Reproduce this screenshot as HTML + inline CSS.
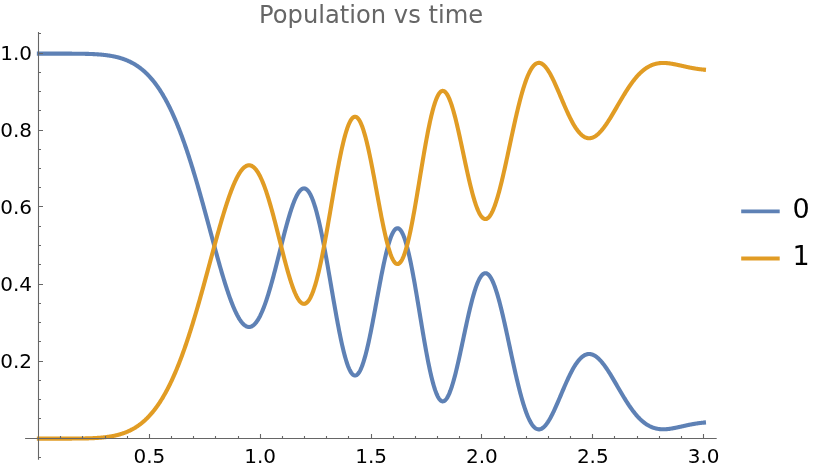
<!DOCTYPE html>
<html><head><meta charset="utf-8"><title>Population vs time</title><style>
html,body{margin:0;padding:0;background:#fff;width:820px;height:470px;overflow:hidden}
svg{display:block;will-change:transform}
text{font-family:"DejaVu Sans","Liberation Sans",sans-serif}
</style></head><body>
<svg width="820" height="470" viewBox="0 0 820 470">
<text x="259.1" y="23" font-size="24.2" fill="#666666">Population vs time</text>
<g fill="none" stroke-width="4.1" stroke-linecap="square" stroke-linejoin="round">
<path d="M38.90,53.65 39.34,53.65 39.79,53.65 40.23,53.65 40.67,53.65 41.12,53.65 41.56,53.65 42.00,53.65 42.45,53.65 42.89,53.65 43.33,53.65 43.78,53.65 44.22,53.65 44.66,53.65 45.11,53.65 45.55,53.65 45.99,53.65 46.44,53.65 46.88,53.65 47.32,53.65 47.77,53.65 48.21,53.65 48.65,53.65 49.10,53.65 49.54,53.65 49.98,53.65 50.43,53.65 50.87,53.65 51.31,53.65 51.76,53.65 52.20,53.65 52.64,53.65 53.09,53.65 53.53,53.65 53.97,53.65 54.42,53.65 54.86,53.65 55.30,53.65 55.75,53.65 56.19,53.65 56.63,53.65 57.08,53.65 57.52,53.65 57.96,53.65 58.41,53.65 58.85,53.65 59.29,53.65 59.74,53.65 60.18,53.65 60.62,53.65 61.07,53.65 61.51,53.65 61.95,53.65 62.40,53.65 62.84,53.65 63.28,53.65 63.73,53.65 64.17,53.66 64.61,53.66 65.06,53.66 65.50,53.66 65.94,53.66 66.39,53.66 66.83,53.66 67.28,53.66 67.72,53.66 68.16,53.66 68.61,53.66 69.05,53.66 69.49,53.67 69.94,53.67 70.38,53.67 70.82,53.67 71.27,53.67 71.71,53.67 72.15,53.68 72.60,53.68 73.04,53.68 73.48,53.68 73.93,53.69 74.37,53.69 74.81,53.69 75.26,53.69 75.70,53.70 76.14,53.70 76.59,53.70 77.03,53.71 77.47,53.71 77.92,53.72 78.36,53.72 78.80,53.73 79.25,53.73 79.69,53.74 80.13,53.74 80.58,53.75 81.02,53.75 81.46,53.76 81.91,53.77 82.35,53.77 82.79,53.78 83.24,53.79 83.68,53.80 84.12,53.81 84.57,53.81 85.01,53.82 85.45,53.83 85.90,53.84 86.34,53.86 86.78,53.87 87.23,53.88 87.67,53.89 88.11,53.90 88.56,53.92 89.00,53.93 89.44,53.95 89.89,53.96 90.33,53.98 90.77,53.99 91.22,54.01 91.66,54.03 92.10,54.05 92.55,54.07 92.99,54.09 93.43,54.11 93.88,54.13 94.32,54.15 94.76,54.18 95.21,54.20 95.65,54.23 96.09,54.25 96.54,54.28 96.98,54.31 97.42,54.34 97.87,54.37 98.31,54.40 98.75,54.43 99.20,54.47 99.64,54.50 100.08,54.54 100.53,54.57 100.97,54.61 101.41,54.65 101.86,54.69 102.30,54.73 102.74,54.78 103.19,54.82 103.63,54.87 104.07,54.92 104.52,54.97 104.96,55.02 105.40,55.07 105.85,55.12 106.29,55.18 106.73,55.24 107.18,55.30 107.62,55.36 108.06,55.42 108.51,55.49 108.95,55.55 109.39,55.62 109.84,55.69 110.28,55.76 110.72,55.84 111.17,55.92 111.61,55.99 112.05,56.08 112.50,56.16 112.94,56.24 113.38,56.33 113.83,56.42 114.27,56.52 114.71,56.61 115.16,56.71 115.60,56.81 116.04,56.91 116.49,57.02 116.93,57.12 117.37,57.24 117.82,57.35 118.26,57.47 118.70,57.59 119.15,57.71 119.59,57.83 120.03,57.96 120.48,58.09 120.92,58.23 121.36,58.37 121.81,58.51 122.25,58.65 122.70,58.80 123.14,58.95 123.58,59.11 124.03,59.26 124.47,59.43 124.91,59.59 125.36,59.76 125.80,59.94 126.24,60.11 126.69,60.29 127.13,60.48 127.57,60.67 128.02,60.86 128.46,61.06 128.90,61.26 129.35,61.47 129.79,61.68 130.23,61.89 130.68,62.11 131.12,62.34 131.56,62.57 132.01,62.80 132.45,63.04 132.89,63.28 133.34,63.53 133.78,63.78 134.22,64.04 134.67,64.30 135.11,64.57 135.55,64.85 136.00,65.12 136.44,65.41 136.88,65.70 137.33,65.99 137.77,66.29 138.21,66.60 138.66,66.91 139.10,67.23 139.54,67.56 139.99,67.89 140.43,68.22 140.87,68.57 141.32,68.91 141.76,69.27 142.20,69.63 142.65,70.00 143.09,70.37 143.53,70.75 143.98,71.14 144.42,71.53 144.86,71.93 145.31,72.34 145.75,72.76 146.19,73.18 146.64,73.61 147.08,74.04 147.52,74.49 147.97,74.94 148.41,75.40 148.85,75.86 149.30,76.34 149.74,76.82 150.18,77.30 150.63,77.80 151.07,78.31 151.51,78.82 151.96,79.34 152.40,79.87 152.84,80.40 153.29,80.95 153.73,81.50 154.17,82.06 154.62,82.63 155.06,83.21 155.50,83.80 155.95,84.39 156.39,85.00 156.83,85.61 157.28,86.23 157.72,86.86 158.16,87.50 158.61,88.15 159.05,88.81 159.49,89.48 159.94,90.16 160.38,90.84 160.82,91.54 161.27,92.25 161.71,92.96 162.15,93.68 162.60,94.42 163.04,95.16 163.48,95.92 163.93,96.68 164.37,97.45 164.81,98.24 165.26,99.03 165.70,99.84 166.14,100.65 166.59,101.47 167.03,102.31 167.47,103.15 167.92,104.01 168.36,104.87 168.80,105.75 169.25,106.64 169.69,107.53 170.13,108.44 170.58,109.36 171.02,110.29 171.46,111.23 171.91,112.18 172.35,113.14 172.79,114.11 173.24,115.09 173.68,116.08 174.12,117.09 174.57,118.10 175.01,119.13 175.45,120.16 175.90,121.21 176.34,122.27 176.78,123.34 177.23,124.42 177.67,125.51 178.12,126.61 178.56,127.72 179.00,128.85 179.45,129.98 179.89,131.13 180.33,132.28 180.78,133.45 181.22,134.63 181.66,135.82 182.11,137.02 182.55,138.23 182.99,139.45 183.44,140.68 183.88,141.92 184.32,143.17 184.77,144.44 185.21,145.71 185.65,147.00 186.10,148.29 186.54,149.59 186.98,150.91 187.43,152.24 187.87,153.57 188.31,154.92 188.76,156.27 189.20,157.64 189.64,159.01 190.09,160.40 190.53,161.79 190.97,163.19 191.42,164.61 191.86,166.03 192.30,167.46 192.75,168.90 193.19,170.35 193.63,171.81 194.08,173.28 194.52,174.75 194.96,176.23 195.41,177.73 195.85,179.22 196.29,180.73 196.74,182.25 197.18,183.77 197.62,185.30 198.07,186.84 198.51,188.38 198.95,189.93 199.40,191.49 199.84,193.05 200.28,194.62 200.73,196.20 201.17,197.78 201.61,199.37 202.06,200.96 202.50,202.56 202.94,204.16 203.39,205.77 203.83,207.38 204.27,208.99 204.72,210.61 205.16,212.24 205.60,213.86 206.05,215.49 206.49,217.12 206.93,218.76 207.38,220.39 207.82,222.03 208.26,223.67 208.71,225.31 209.15,226.95 209.59,228.59 210.04,230.24 210.48,231.88 210.92,233.52 211.37,235.16 211.81,236.80 212.25,238.44 212.70,240.07 213.14,241.71 213.58,243.34 214.03,244.97 214.47,246.59 214.91,248.22 215.36,249.83 215.80,251.44 216.24,253.05 216.69,254.65 217.13,256.25 217.57,257.84 218.02,259.43 218.46,261.00 218.90,262.57 219.35,264.13 219.79,265.69 220.23,267.23 220.68,268.77 221.12,270.29 221.56,271.81 222.01,273.31 222.45,274.81 222.89,276.29 223.34,277.76 223.78,279.22 224.22,280.67 224.67,282.10 225.11,283.52 225.55,284.92 226.00,286.31 226.44,287.68 226.88,289.04 227.33,290.39 227.77,291.71 228.21,293.02 228.66,294.31 229.10,295.59 229.54,296.84 229.99,298.08 230.43,299.29 230.87,300.49 231.32,301.67 231.76,302.82 232.20,303.96 232.65,305.07 233.09,306.16 233.54,307.23 233.98,308.27 234.42,309.29 234.87,310.28 235.31,311.26 235.75,312.20 236.20,313.12 236.64,314.02 237.08,314.89 237.53,315.73 237.97,316.54 238.41,317.33 238.86,318.09 239.30,318.82 239.74,319.52 240.19,320.19 240.63,320.83 241.07,321.45 241.52,322.03 241.96,322.58 242.40,323.10 242.85,323.59 243.29,324.05 243.73,324.47 244.18,324.86 244.62,325.22 245.06,325.55 245.51,325.84 245.95,326.10 246.39,326.33 246.84,326.52 247.28,326.68 247.72,326.80 248.17,326.89 248.61,326.94 249.05,326.96 249.50,326.94 249.94,326.89 250.38,326.80 250.83,326.68 251.27,326.52 251.71,326.33 252.16,326.09 252.60,325.83 253.04,325.52 253.49,325.19 253.93,324.81 254.37,324.40 254.82,323.95 255.26,323.47 255.70,322.95 256.15,322.40 256.59,321.81 257.03,321.18 257.48,320.52 257.92,319.82 258.36,319.09 258.81,318.33 259.25,317.53 259.69,316.69 260.14,315.82 260.58,314.92 261.02,313.98 261.47,313.01 261.91,312.01 262.35,310.98 262.80,309.91 263.24,308.82 263.68,307.69 264.13,306.53 264.57,305.34 265.01,304.12 265.46,302.87 265.90,301.60 266.34,300.29 266.79,298.96 267.23,297.60 267.67,296.22 268.12,294.81 268.56,293.38 269.00,291.92 269.45,290.44 269.89,288.93 270.33,287.41 270.78,285.86 271.22,284.30 271.66,282.71 272.11,281.11 272.55,279.49 272.99,277.85 273.44,276.19 273.88,274.53 274.32,272.85 274.77,271.15 275.21,269.44 275.65,267.73 276.10,266.00 276.54,264.26 276.98,262.52 277.43,260.77 277.87,259.02 278.31,257.26 278.76,255.49 279.20,253.73 279.64,251.96 280.09,250.20 280.53,248.43 280.97,246.67 281.42,244.91 281.86,243.16 282.30,241.41 282.75,239.68 283.19,237.94 283.63,236.22 284.08,234.51 284.52,232.82 284.96,231.13 285.41,229.46 285.85,227.81 286.29,226.17 286.74,224.56 287.18,222.96 287.62,221.38 288.07,219.83 288.51,218.30 288.96,216.79 289.40,215.31 289.84,213.86 290.29,212.44 290.73,211.04 291.17,209.68 291.62,208.35 292.06,207.05 292.50,205.78 292.95,204.56 293.39,203.36 293.83,202.21 294.28,201.10 294.72,200.02 295.16,198.99 295.61,198.00 296.05,197.05 296.49,196.15 296.94,195.29 297.38,194.48 297.82,193.71 298.27,193.00 298.71,192.33 299.15,191.71 299.60,191.14 300.04,190.63 300.48,190.16 300.93,189.75 301.37,189.39 301.81,189.09 302.26,188.84 302.70,188.65 303.14,188.51 303.59,188.43 304.03,188.41 304.47,188.45 304.92,188.54 305.36,188.69 305.80,188.90 306.25,189.17 306.69,189.49 307.13,189.88 307.58,190.33 308.02,190.83 308.46,191.40 308.91,192.03 309.35,192.71 309.79,193.46 310.24,194.26 310.68,195.12 311.12,196.05 311.57,197.03 312.01,198.07 312.45,199.16 312.90,200.32 313.34,201.53 313.78,202.80 314.23,204.13 314.67,205.51 315.11,206.94 315.56,208.43 316.00,209.97 316.44,211.57 316.89,213.22 317.33,214.91 317.77,216.66 318.22,218.46 318.66,220.30 319.10,222.19 319.55,224.13 319.99,226.11 320.43,228.13 320.88,230.20 321.32,232.30 321.76,234.45 322.21,236.63 322.65,238.85 323.09,241.10 323.54,243.39 323.98,245.71 324.42,248.06 324.87,250.43 325.31,252.84 325.75,255.27 326.20,257.72 326.64,260.19 327.08,262.68 327.53,265.19 327.97,267.72 328.41,270.26 328.86,272.81 329.30,275.38 329.74,277.95 330.19,280.52 330.63,283.11 331.07,285.69 331.52,288.28 331.96,290.86 332.40,293.44 332.85,296.01 333.29,298.58 333.73,301.13 334.18,303.67 334.62,306.20 335.06,308.72 335.51,311.21 335.95,313.69 336.39,316.14 336.84,318.57 337.28,320.97 337.72,323.34 338.17,325.68 338.61,327.99 339.05,330.27 339.50,332.51 339.94,334.71 340.38,336.87 340.83,338.99 341.27,341.06 341.71,343.09 342.16,345.08 342.60,347.01 343.04,348.89 343.49,350.72 343.93,352.49 344.38,354.21 344.82,355.88 345.26,357.48 345.71,359.02 346.15,360.50 346.59,361.92 347.04,363.27 347.48,364.56 347.92,365.78 348.37,366.94 348.81,368.02 349.25,369.04 349.70,369.98 350.14,370.85 350.58,371.65 351.03,372.38 351.47,373.03 351.91,373.61 352.36,374.11 352.80,374.53 353.24,374.88 353.69,375.16 354.13,375.35 354.57,375.47 355.02,375.52 355.46,375.48 355.90,375.37 356.35,375.19 356.79,374.92 357.23,374.58 357.68,374.16 358.12,373.67 358.56,373.10 359.01,372.46 359.45,371.74 359.89,370.95 360.34,370.09 360.78,369.15 361.22,368.15 361.67,367.07 362.11,365.93 362.55,364.72 363.00,363.44 363.44,362.10 363.88,360.69 364.33,359.22 364.77,357.69 365.21,356.10 365.66,354.45 366.10,352.75 366.54,351.00 366.99,349.19 367.43,347.33 367.87,345.42 368.32,343.46 368.76,341.46 369.20,339.42 369.65,337.34 370.09,335.21 370.53,333.06 370.98,330.87 371.42,328.64 371.86,326.39 372.31,324.11 372.75,321.81 373.19,319.48 373.64,317.14 374.08,314.78 374.52,312.40 374.97,310.01 375.41,307.61 375.85,305.20 376.30,302.79 376.74,300.38 377.18,297.97 377.63,295.56 378.07,293.16 378.51,290.77 378.96,288.38 379.40,286.02 379.84,283.66 380.29,281.33 380.73,279.02 381.17,276.73 381.62,274.46 382.06,272.23 382.50,270.03 382.95,267.86 383.39,265.72 383.83,263.63 384.28,261.58 384.72,259.57 385.16,257.60 385.61,255.68 386.05,253.81 386.49,252.00 386.94,250.23 387.38,248.53 387.82,246.88 388.27,245.29 388.71,243.76 389.15,242.29 389.60,240.89 390.04,239.56 390.48,238.29 390.93,237.09 391.37,235.96 391.81,234.91 392.26,233.93 392.70,233.02 393.14,232.19 393.59,231.44 394.03,230.76 394.47,230.17 394.92,229.65 395.36,229.21 395.80,228.85 396.25,228.58 396.69,228.38 397.13,228.27 397.58,228.24 398.02,228.29 398.46,228.43 398.91,228.65 399.35,228.95 399.80,229.33 400.24,229.80 400.68,230.34 401.13,230.97 401.57,231.68 402.01,232.47 402.46,233.34 402.90,234.28 403.34,235.31 403.79,236.41 404.23,237.59 404.67,238.84 405.12,240.17 405.56,241.57 406.00,243.04 406.45,244.58 406.89,246.18 407.33,247.86 407.78,249.60 408.22,251.40 408.66,253.27 409.11,255.19 409.55,257.17 409.99,259.21 410.44,261.30 410.88,263.45 411.32,265.64 411.77,267.88 412.21,270.17 412.65,272.50 413.10,274.87 413.54,277.28 413.98,279.72 414.43,282.20 414.87,284.71 415.31,287.25 415.76,289.82 416.20,292.40 416.64,295.01 417.09,297.64 417.53,300.29 417.97,302.94 418.42,305.61 418.86,308.29 419.30,310.97 419.75,313.65 420.19,316.34 420.63,319.02 421.08,321.70 421.52,324.37 421.96,327.03 422.41,329.67 422.85,332.31 423.29,334.92 423.74,337.51 424.18,340.08 424.62,342.63 425.07,345.14 425.51,347.63 425.95,350.08 426.40,352.50 426.84,354.88 427.28,357.22 427.73,359.53 428.17,361.78 428.61,363.99 429.06,366.16 429.50,368.27 429.94,370.33 430.39,372.34 430.83,374.29 431.27,376.18 431.72,378.02 432.16,379.79 432.60,381.51 433.05,383.16 433.49,384.74 433.93,386.26 434.38,387.71 434.82,389.10 435.26,390.41 435.71,391.65 436.15,392.82 436.59,393.92 437.04,394.94 437.48,395.89 437.92,396.77 438.37,397.57 438.81,398.29 439.25,398.94 439.70,399.51 440.14,400.01 440.58,400.42 441.03,400.76 441.47,401.03 441.91,401.22 442.36,401.33 442.80,401.36 443.24,401.32 443.69,401.20 444.13,401.01 444.57,400.74 445.02,400.40 445.46,399.99 445.90,399.50 446.35,398.94 446.79,398.31 447.23,397.61 447.68,396.85 448.12,396.01 448.56,395.11 449.01,394.15 449.45,393.12 449.89,392.02 450.34,390.87 450.78,389.66 451.22,388.39 451.67,387.07 452.11,385.69 452.55,384.26 453.00,382.77 453.44,381.24 453.88,379.66 454.33,378.04 454.77,376.37 455.22,374.66 455.66,372.91 456.10,371.12 456.55,369.30 456.99,367.45 457.43,365.56 457.88,363.65 458.32,361.70 458.76,359.74 459.21,357.75 459.65,355.74 460.09,353.71 460.54,351.67 460.98,349.61 461.42,347.55 461.87,345.47 462.31,343.39 462.75,341.30 463.20,339.21 463.64,337.12 464.08,335.03 464.53,332.95 464.97,330.87 465.41,328.80 465.86,326.74 466.30,324.70 466.74,322.67 467.19,320.66 467.63,318.66 468.07,316.69 468.52,314.74 468.96,312.82 469.40,310.92 469.85,309.05 470.29,307.22 470.73,305.41 471.18,303.64 471.62,301.91 472.06,300.21 472.51,298.56 472.95,296.94 473.39,295.37 473.84,293.84 474.28,292.36 474.72,290.92 475.17,289.53 475.61,288.20 476.05,286.91 476.50,285.67 476.94,284.49 477.38,283.36 477.83,282.29 478.27,281.27 478.71,280.31 479.16,279.41 479.60,278.57 480.04,277.78 480.49,277.06 480.93,276.40 481.37,275.79 481.82,275.25 482.26,274.77 482.70,274.36 483.15,274.00 483.59,273.71 484.03,273.48 484.48,273.32 484.92,273.22 485.36,273.18 485.81,273.20 486.25,273.29 486.69,273.44 487.14,273.65 487.58,273.92 488.02,274.26 488.47,274.65 488.91,275.11 489.35,275.63 489.80,276.21 490.24,276.85 490.68,277.54 491.13,278.30 491.57,279.11 492.01,279.97 492.46,280.90 492.90,281.87 493.34,282.90 493.79,283.99 494.23,285.12 494.67,286.31 495.12,287.54 495.56,288.82 496.00,290.15 496.45,291.52 496.89,292.94 497.33,294.41 497.78,295.91 498.22,297.46 498.66,299.04 499.11,300.66 499.55,302.32 499.99,304.01 500.44,305.74 500.88,307.50 501.32,309.29 501.77,311.11 502.21,312.95 502.65,314.83 503.10,316.72 503.54,318.64 503.98,320.58 504.43,322.54 504.87,324.52 505.31,326.52 505.76,328.53 506.20,330.55 506.64,332.59 507.09,334.63 507.53,336.69 507.97,338.75 508.42,340.82 508.86,342.89 509.30,344.97 509.75,347.04 510.19,349.12 510.64,351.19 511.08,353.26 511.52,355.32 511.97,357.38 512.41,359.43 512.85,361.47 513.30,363.50 513.74,365.51 514.18,367.52 514.63,369.51 515.07,371.48 515.51,373.43 515.96,375.37 516.40,377.28 516.84,379.18 517.29,381.05 517.73,382.90 518.17,384.72 518.62,386.52 519.06,388.29 519.50,390.04 519.95,391.75 520.39,393.43 520.83,395.09 521.28,396.71 521.72,398.30 522.16,399.85 522.61,401.37 523.05,402.86 523.49,404.31 523.94,405.72 524.38,407.10 524.82,408.44 525.27,409.74 525.71,411.00 526.15,412.22 526.60,413.40 527.04,414.54 527.48,415.64 527.93,416.70 528.37,417.72 528.81,418.69 529.26,419.62 529.70,420.51 530.14,421.36 530.59,422.17 531.03,422.93 531.47,423.65 531.92,424.33 532.36,424.96 532.80,425.55 533.25,426.10 533.69,426.60 534.13,427.07 534.58,427.48 535.02,427.86 535.46,428.20 535.91,428.49 536.35,428.74 536.79,428.95 537.24,429.12 537.68,429.24 538.12,429.33 538.57,429.38 539.01,429.39 539.45,429.35 539.90,429.28 540.34,429.17 540.78,429.03 541.23,428.85 541.67,428.63 542.11,428.37 542.56,428.08 543.00,427.75 543.44,427.40 543.89,427.00 544.33,426.58 544.77,426.12 545.22,425.63 545.66,425.11 546.10,424.57 546.55,423.99 546.99,423.38 547.43,422.75 547.88,422.09 548.32,421.41 548.76,420.70 549.21,419.97 549.65,419.21 550.09,418.43 550.54,417.63 550.98,416.81 551.42,415.97 551.87,415.11 552.31,414.24 552.75,413.34 553.20,412.43 553.64,411.51 554.08,410.57 554.53,409.62 554.97,408.65 555.41,407.67 555.86,406.69 556.30,405.69 556.74,404.68 557.19,403.67 557.63,402.65 558.07,401.62 558.52,400.58 558.96,399.55 559.40,398.50 559.85,397.46 560.29,396.41 560.73,395.37 561.18,394.32 561.62,393.27 562.06,392.22 562.51,391.18 562.95,390.14 563.39,389.10 563.84,388.07 564.28,387.04 564.72,386.01 565.17,385.00 565.61,383.99 566.06,382.99 566.50,382.00 566.94,381.01 567.39,380.04 567.83,379.08 568.27,378.13 568.72,377.19 569.16,376.26 569.60,375.35 570.05,374.45 570.49,373.57 570.93,372.70 571.38,371.84 571.82,371.00 572.26,370.18 572.71,369.37 573.15,368.58 573.59,367.81 574.04,367.06 574.48,366.32 574.92,365.61 575.37,364.91 575.81,364.23 576.25,363.57 576.70,362.94 577.14,362.32 577.58,361.72 578.03,361.15 578.47,360.59 578.91,360.06 579.36,359.55 579.80,359.06 580.24,358.60 580.69,358.15 581.13,357.73 581.57,357.33 582.02,356.95 582.46,356.60 582.90,356.27 583.35,355.96 583.79,355.67 584.23,355.41 584.68,355.17 585.12,354.95 585.56,354.76 586.01,354.58 586.45,354.44 586.89,354.31 587.34,354.21 587.78,354.13 588.22,354.07 588.67,354.03 589.11,354.02 589.55,354.03 590.00,354.06 590.44,354.11 590.88,354.18 591.33,354.28 591.77,354.39 592.21,354.53 592.66,354.69 593.10,354.87 593.54,355.07 593.99,355.29 594.43,355.53 594.87,355.78 595.32,356.06 595.76,356.36 596.20,356.67 596.65,357.00 597.09,357.36 597.53,357.72 597.98,358.11 598.42,358.51 598.86,358.93 599.31,359.37 599.75,359.82 600.19,360.29 600.64,360.77 601.08,361.27 601.52,361.78 601.97,362.30 602.41,362.84 602.85,363.40 603.30,363.96 603.74,364.54 604.18,365.13 604.63,365.73 605.07,366.34 605.51,366.97 605.96,367.60 606.40,368.25 606.84,368.90 607.29,369.56 607.73,370.24 608.17,370.92 608.62,371.61 609.06,372.30 609.50,373.00 609.95,373.71 610.39,374.43 610.83,375.15 611.28,375.88 611.72,376.61 612.16,377.35 612.61,378.09 613.05,378.84 613.49,379.59 613.94,380.34 614.38,381.10 614.82,381.86 615.27,382.62 615.71,383.38 616.15,384.14 616.60,384.90 617.04,385.67 617.48,386.43 617.93,387.20 618.37,387.96 618.81,388.72 619.26,389.49 619.70,390.25 620.14,391.00 620.59,391.76 621.03,392.51 621.48,393.27 621.92,394.01 622.36,394.76 622.81,395.50 623.25,396.23 623.69,396.97 624.14,397.69 624.58,398.42 625.02,399.14 625.47,399.85 625.91,400.55 626.35,401.26 626.80,401.95 627.24,402.64 627.68,403.32 628.13,404.00 628.57,404.66 629.01,405.33 629.46,405.98 629.90,406.63 630.34,407.27 630.79,407.90 631.23,408.52 631.67,409.13 632.12,409.74 632.56,410.34 633.00,410.93 633.45,411.51 633.89,412.08 634.33,412.64 634.78,413.19 635.22,413.74 635.66,414.27 636.11,414.80 636.55,415.32 636.99,415.82 637.44,416.32 637.88,416.81 638.32,417.28 638.77,417.75 639.21,418.21 639.65,418.66 640.10,419.10 640.54,419.52 640.98,419.94 641.43,420.35 641.87,420.75 642.31,421.14 642.76,421.52 643.20,421.89 643.64,422.25 644.09,422.59 644.53,422.93 644.97,423.26 645.42,423.58 645.86,423.89 646.30,424.19 646.75,424.48 647.19,424.76 647.63,425.04 648.08,425.30 648.52,425.55 648.96,425.79 649.41,426.03 649.85,426.25 650.29,426.47 650.74,426.68 651.18,426.87 651.62,427.06 652.07,427.24 652.51,427.42 652.95,427.58 653.40,427.73 653.84,427.88 654.28,428.02 654.73,428.15 655.17,428.27 655.61,428.39 656.06,428.50 656.50,428.60 656.94,428.69 657.39,428.77 657.83,428.85 658.27,428.92 658.72,428.99 659.16,429.05 659.60,429.10 660.05,429.14 660.49,429.18 660.93,429.21 661.38,429.24 661.82,429.26 662.26,429.28 662.71,429.29 663.15,429.29 663.59,429.29 664.04,429.28 664.48,429.27 664.92,429.25 665.37,429.23 665.81,429.21 666.25,429.18 666.70,429.14 667.14,429.11 667.58,429.06 668.03,429.02 668.47,428.97 668.91,428.91 669.36,428.86 669.80,428.80 670.24,428.74 670.69,428.67 671.13,428.60 671.57,428.53 672.02,428.46 672.46,428.38 672.90,428.30 673.35,428.22 673.79,428.14 674.23,428.05 674.68,427.97 675.12,427.88 675.56,427.79 676.01,427.70 676.45,427.60 676.90,427.51 677.34,427.42 677.78,427.32 678.23,427.22 678.67,427.13 679.11,427.03 679.56,426.93 680.00,426.83 680.44,426.73 680.89,426.63 681.33,426.53 681.77,426.43 682.22,426.33 682.66,426.23 683.10,426.13 683.55,426.03 683.99,425.93 684.43,425.83 684.88,425.73 685.32,425.64 685.76,425.54 686.21,425.44 686.65,425.35 687.09,425.25 687.54,425.16 687.98,425.06 688.42,424.97 688.87,424.88 689.31,424.79 689.75,424.70 690.20,424.61 690.64,424.53 691.08,424.44 691.53,424.36 691.97,424.27 692.41,424.19 692.86,424.11 693.30,424.03 693.74,423.96 694.19,423.88 694.63,423.80 695.07,423.73 695.52,423.66 695.96,423.59 696.40,423.52 696.85,423.45 697.29,423.39 697.73,423.32 698.18,423.26 698.62,423.20 699.06,423.14 699.51,423.08 699.95,423.03 700.39,422.97 700.84,422.92 701.28,422.87 701.72,422.82 702.17,422.77 702.61,422.72 703.05,422.68 703.50,422.63 703.94,422.59" stroke="#5e81b5"/>
<path d="M38.90,438.60 39.34,438.60 39.79,438.60 40.23,438.60 40.67,438.60 41.12,438.60 41.56,438.60 42.00,438.60 42.45,438.60 42.89,438.60 43.33,438.60 43.78,438.60 44.22,438.60 44.66,438.60 45.11,438.60 45.55,438.60 45.99,438.60 46.44,438.60 46.88,438.60 47.32,438.60 47.77,438.60 48.21,438.60 48.65,438.60 49.10,438.60 49.54,438.60 49.98,438.60 50.43,438.60 50.87,438.60 51.31,438.60 51.76,438.60 52.20,438.60 52.64,438.60 53.09,438.60 53.53,438.60 53.97,438.60 54.42,438.60 54.86,438.60 55.30,438.60 55.75,438.60 56.19,438.60 56.63,438.60 57.08,438.60 57.52,438.60 57.96,438.60 58.41,438.60 58.85,438.60 59.29,438.60 59.74,438.60 60.18,438.60 60.62,438.60 61.07,438.60 61.51,438.60 61.95,438.60 62.40,438.60 62.84,438.60 63.28,438.60 63.73,438.60 64.17,438.59 64.61,438.59 65.06,438.59 65.50,438.59 65.94,438.59 66.39,438.59 66.83,438.59 67.28,438.59 67.72,438.59 68.16,438.59 68.61,438.59 69.05,438.59 69.49,438.58 69.94,438.58 70.38,438.58 70.82,438.58 71.27,438.58 71.71,438.58 72.15,438.57 72.60,438.57 73.04,438.57 73.48,438.57 73.93,438.56 74.37,438.56 74.81,438.56 75.26,438.56 75.70,438.55 76.14,438.55 76.59,438.55 77.03,438.54 77.47,438.54 77.92,438.53 78.36,438.53 78.80,438.52 79.25,438.52 79.69,438.51 80.13,438.51 80.58,438.50 81.02,438.50 81.46,438.49 81.91,438.48 82.35,438.48 82.79,438.47 83.24,438.46 83.68,438.45 84.12,438.44 84.57,438.44 85.01,438.43 85.45,438.42 85.90,438.41 86.34,438.39 86.78,438.38 87.23,438.37 87.67,438.36 88.11,438.35 88.56,438.33 89.00,438.32 89.44,438.30 89.89,438.29 90.33,438.27 90.77,438.26 91.22,438.24 91.66,438.22 92.10,438.20 92.55,438.18 92.99,438.16 93.43,438.14 93.88,438.12 94.32,438.10 94.76,438.07 95.21,438.05 95.65,438.02 96.09,438.00 96.54,437.97 96.98,437.94 97.42,437.91 97.87,437.88 98.31,437.85 98.75,437.82 99.20,437.78 99.64,437.75 100.08,437.71 100.53,437.68 100.97,437.64 101.41,437.60 101.86,437.56 102.30,437.52 102.74,437.47 103.19,437.43 103.63,437.38 104.07,437.33 104.52,437.28 104.96,437.23 105.40,437.18 105.85,437.13 106.29,437.07 106.73,437.01 107.18,436.95 107.62,436.89 108.06,436.83 108.51,436.76 108.95,436.70 109.39,436.63 109.84,436.56 110.28,436.49 110.72,436.41 111.17,436.33 111.61,436.26 112.05,436.17 112.50,436.09 112.94,436.01 113.38,435.92 113.83,435.83 114.27,435.73 114.71,435.64 115.16,435.54 115.60,435.44 116.04,435.34 116.49,435.23 116.93,435.13 117.37,435.01 117.82,434.90 118.26,434.78 118.70,434.66 119.15,434.54 119.59,434.42 120.03,434.29 120.48,434.16 120.92,434.02 121.36,433.88 121.81,433.74 122.25,433.60 122.70,433.45 123.14,433.30 123.58,433.14 124.03,432.99 124.47,432.82 124.91,432.66 125.36,432.49 125.80,432.31 126.24,432.14 126.69,431.96 127.13,431.77 127.57,431.58 128.02,431.39 128.46,431.19 128.90,430.99 129.35,430.78 129.79,430.57 130.23,430.36 130.68,430.14 131.12,429.91 131.56,429.68 132.01,429.45 132.45,429.21 132.89,428.97 133.34,428.72 133.78,428.47 134.22,428.21 134.67,427.95 135.11,427.68 135.55,427.40 136.00,427.13 136.44,426.84 136.88,426.55 137.33,426.26 137.77,425.96 138.21,425.65 138.66,425.34 139.10,425.02 139.54,424.69 139.99,424.36 140.43,424.03 140.87,423.68 141.32,423.34 141.76,422.98 142.20,422.62 142.65,422.25 143.09,421.88 143.53,421.50 143.98,421.11 144.42,420.72 144.86,420.32 145.31,419.91 145.75,419.49 146.19,419.07 146.64,418.64 147.08,418.21 147.52,417.76 147.97,417.31 148.41,416.85 148.85,416.39 149.30,415.91 149.74,415.43 150.18,414.95 150.63,414.45 151.07,413.94 151.51,413.43 151.96,412.91 152.40,412.38 152.84,411.85 153.29,411.30 153.73,410.75 154.17,410.19 154.62,409.62 155.06,409.04 155.50,408.45 155.95,407.86 156.39,407.25 156.83,406.64 157.28,406.02 157.72,405.39 158.16,404.75 158.61,404.10 159.05,403.44 159.49,402.77 159.94,402.09 160.38,401.41 160.82,400.71 161.27,400.00 161.71,399.29 162.15,398.57 162.60,397.83 163.04,397.09 163.48,396.33 163.93,395.57 164.37,394.80 164.81,394.01 165.26,393.22 165.70,392.41 166.14,391.60 166.59,390.78 167.03,389.94 167.47,389.10 167.92,388.24 168.36,387.38 168.80,386.50 169.25,385.61 169.69,384.72 170.13,383.81 170.58,382.89 171.02,381.96 171.46,381.02 171.91,380.07 172.35,379.11 172.79,378.14 173.24,377.16 173.68,376.17 174.12,375.16 174.57,374.15 175.01,373.12 175.45,372.09 175.90,371.04 176.34,369.98 176.78,368.91 177.23,367.83 177.67,366.74 178.12,365.64 178.56,364.53 179.00,363.40 179.45,362.27 179.89,361.12 180.33,359.97 180.78,358.80 181.22,357.62 181.66,356.43 182.11,355.23 182.55,354.02 182.99,352.80 183.44,351.57 183.88,350.33 184.32,349.08 184.77,347.81 185.21,346.54 185.65,345.25 186.10,343.96 186.54,342.66 186.98,341.34 187.43,340.01 187.87,338.68 188.31,337.33 188.76,335.98 189.20,334.61 189.64,333.24 190.09,331.85 190.53,330.46 190.97,329.06 191.42,327.64 191.86,326.22 192.30,324.79 192.75,323.35 193.19,321.90 193.63,320.44 194.08,318.97 194.52,317.50 194.96,316.02 195.41,314.52 195.85,313.03 196.29,311.52 196.74,310.00 197.18,308.48 197.62,306.95 198.07,305.41 198.51,303.87 198.95,302.32 199.40,300.76 199.84,299.20 200.28,297.63 200.73,296.05 201.17,294.47 201.61,292.88 202.06,291.29 202.50,289.69 202.94,288.09 203.39,286.48 203.83,284.87 204.27,283.26 204.72,281.64 205.16,280.01 205.60,278.39 206.05,276.76 206.49,275.13 206.93,273.49 207.38,271.86 207.82,270.22 208.26,268.58 208.71,266.94 209.15,265.30 209.59,263.66 210.04,262.01 210.48,260.37 210.92,258.73 211.37,257.09 211.81,255.45 212.25,253.81 212.70,252.18 213.14,250.54 213.58,248.91 214.03,247.28 214.47,245.66 214.91,244.03 215.36,242.42 215.80,240.81 216.24,239.20 216.69,237.60 217.13,236.00 217.57,234.41 218.02,232.82 218.46,231.25 218.90,229.68 219.35,228.12 219.79,226.56 220.23,225.02 220.68,223.48 221.12,221.96 221.56,220.44 222.01,218.94 222.45,217.44 222.89,215.96 223.34,214.49 223.78,213.03 224.22,211.58 224.67,210.15 225.11,208.73 225.55,207.33 226.00,205.94 226.44,204.57 226.88,203.21 227.33,201.86 227.77,200.54 228.21,199.23 228.66,197.94 229.10,196.66 229.54,195.41 229.99,194.17 230.43,192.96 230.87,191.76 231.32,190.58 231.76,189.43 232.20,188.29 232.65,187.18 233.09,186.09 233.54,185.02 233.98,183.98 234.42,182.96 234.87,181.97 235.31,180.99 235.75,180.05 236.20,179.13 236.64,178.23 237.08,177.36 237.53,176.52 237.97,175.71 238.41,174.92 238.86,174.16 239.30,173.43 239.74,172.73 240.19,172.06 240.63,171.42 241.07,170.80 241.52,170.22 241.96,169.67 242.40,169.15 242.85,168.66 243.29,168.20 243.73,167.78 244.18,167.39 244.62,167.03 245.06,166.70 245.51,166.41 245.95,166.15 246.39,165.92 246.84,165.73 247.28,165.57 247.72,165.45 248.17,165.36 248.61,165.31 249.05,165.29 249.50,165.31 249.94,165.36 250.38,165.45 250.83,165.57 251.27,165.73 251.71,165.92 252.16,166.16 252.60,166.42 253.04,166.73 253.49,167.06 253.93,167.44 254.37,167.85 254.82,168.30 255.26,168.78 255.70,169.30 256.15,169.85 256.59,170.44 257.03,171.07 257.48,171.73 257.92,172.43 258.36,173.16 258.81,173.92 259.25,174.72 259.69,175.56 260.14,176.43 260.58,177.33 261.02,178.27 261.47,179.24 261.91,180.24 262.35,181.27 262.80,182.34 263.24,183.43 263.68,184.56 264.13,185.72 264.57,186.91 265.01,188.13 265.46,189.38 265.90,190.65 266.34,191.96 266.79,193.29 267.23,194.65 267.67,196.03 268.12,197.44 268.56,198.87 269.00,200.33 269.45,201.81 269.89,203.32 270.33,204.84 270.78,206.39 271.22,207.95 271.66,209.54 272.11,211.14 272.55,212.76 272.99,214.40 273.44,216.06 273.88,217.72 274.32,219.40 274.77,221.10 275.21,222.81 275.65,224.52 276.10,226.25 276.54,227.99 276.98,229.73 277.43,231.48 277.87,233.23 278.31,234.99 278.76,236.76 279.20,238.52 279.64,240.29 280.09,242.05 280.53,243.82 280.97,245.58 281.42,247.34 281.86,249.09 282.30,250.84 282.75,252.57 283.19,254.31 283.63,256.03 284.08,257.74 284.52,259.43 284.96,261.12 285.41,262.79 285.85,264.44 286.29,266.08 286.74,267.69 287.18,269.29 287.62,270.87 288.07,272.42 288.51,273.95 288.96,275.46 289.40,276.94 289.84,278.39 290.29,279.81 290.73,281.21 291.17,282.57 291.62,283.90 292.06,285.20 292.50,286.47 292.95,287.69 293.39,288.89 293.83,290.04 294.28,291.15 294.72,292.23 295.16,293.26 295.61,294.25 296.05,295.20 296.49,296.10 296.94,296.96 297.38,297.77 297.82,298.54 298.27,299.25 298.71,299.92 299.15,300.54 299.60,301.11 300.04,301.62 300.48,302.09 300.93,302.50 301.37,302.86 301.81,303.16 302.26,303.41 302.70,303.60 303.14,303.74 303.59,303.82 304.03,303.84 304.47,303.80 304.92,303.71 305.36,303.56 305.80,303.35 306.25,303.08 306.69,302.76 307.13,302.37 307.58,301.92 308.02,301.42 308.46,300.85 308.91,300.22 309.35,299.54 309.79,298.79 310.24,297.99 310.68,297.13 311.12,296.20 311.57,295.22 312.01,294.18 312.45,293.09 312.90,291.93 313.34,290.72 313.78,289.45 314.23,288.12 314.67,286.74 315.11,285.31 315.56,283.82 316.00,282.28 316.44,280.68 316.89,279.03 317.33,277.34 317.77,275.59 318.22,273.79 318.66,271.95 319.10,270.06 319.55,268.12 319.99,266.14 320.43,264.12 320.88,262.05 321.32,259.95 321.76,257.80 322.21,255.62 322.65,253.40 323.09,251.15 323.54,248.86 323.98,246.54 324.42,244.19 324.87,241.82 325.31,239.41 325.75,236.98 326.20,234.53 326.64,232.06 327.08,229.57 327.53,227.06 327.97,224.53 328.41,221.99 328.86,219.44 329.30,216.87 329.74,214.30 330.19,211.73 330.63,209.14 331.07,206.56 331.52,203.97 331.96,201.39 332.40,198.81 332.85,196.24 333.29,193.67 333.73,191.12 334.18,188.58 334.62,186.05 335.06,183.53 335.51,181.04 335.95,178.56 336.39,176.11 336.84,173.68 337.28,171.28 337.72,168.91 338.17,166.57 338.61,164.26 339.05,161.98 339.50,159.74 339.94,157.54 340.38,155.38 340.83,153.26 341.27,151.19 341.71,149.16 342.16,147.17 342.60,145.24 343.04,143.36 343.49,141.53 343.93,139.76 344.38,138.04 344.82,136.37 345.26,134.77 345.71,133.23 346.15,131.75 346.59,130.33 347.04,128.98 347.48,127.69 347.92,126.47 348.37,125.31 348.81,124.23 349.25,123.21 349.70,122.27 350.14,121.40 350.58,120.60 351.03,119.87 351.47,119.22 351.91,118.64 352.36,118.14 352.80,117.72 353.24,117.37 353.69,117.09 354.13,116.90 354.57,116.78 355.02,116.73 355.46,116.77 355.90,116.88 356.35,117.06 356.79,117.33 357.23,117.67 357.68,118.09 358.12,118.58 358.56,119.15 359.01,119.79 359.45,120.51 359.89,121.30 360.34,122.16 360.78,123.10 361.22,124.10 361.67,125.18 362.11,126.32 362.55,127.53 363.00,128.81 363.44,130.15 363.88,131.56 364.33,133.03 364.77,134.56 365.21,136.15 365.66,137.80 366.10,139.50 366.54,141.25 366.99,143.06 367.43,144.92 367.87,146.83 368.32,148.79 368.76,150.79 369.20,152.83 369.65,154.91 370.09,157.04 370.53,159.19 370.98,161.38 371.42,163.61 371.86,165.86 372.31,168.14 372.75,170.44 373.19,172.77 373.64,175.11 374.08,177.47 374.52,179.85 374.97,182.24 375.41,184.64 375.85,187.05 376.30,189.46 376.74,191.87 377.18,194.28 377.63,196.69 378.07,199.09 378.51,201.48 378.96,203.87 379.40,206.23 379.84,208.59 380.29,210.92 380.73,213.23 381.17,215.52 381.62,217.79 382.06,220.02 382.50,222.22 382.95,224.39 383.39,226.53 383.83,228.62 384.28,230.67 384.72,232.68 385.16,234.65 385.61,236.57 386.05,238.44 386.49,240.25 386.94,242.02 387.38,243.72 387.82,245.37 388.27,246.96 388.71,248.49 389.15,249.96 389.60,251.36 390.04,252.69 390.48,253.96 390.93,255.16 391.37,256.29 391.81,257.34 392.26,258.32 392.70,259.23 393.14,260.06 393.59,260.81 394.03,261.49 394.47,262.08 394.92,262.60 395.36,263.04 395.80,263.40 396.25,263.67 396.69,263.87 397.13,263.98 397.58,264.01 398.02,263.96 398.46,263.82 398.91,263.60 399.35,263.30 399.80,262.92 400.24,262.45 400.68,261.91 401.13,261.28 401.57,260.57 402.01,259.78 402.46,258.91 402.90,257.97 403.34,256.94 403.79,255.84 404.23,254.66 404.67,253.41 405.12,252.08 405.56,250.68 406.00,249.21 406.45,247.67 406.89,246.07 407.33,244.39 407.78,242.65 408.22,240.85 408.66,238.98 409.11,237.06 409.55,235.08 409.99,233.04 410.44,230.95 410.88,228.80 411.32,226.61 411.77,224.37 412.21,222.08 412.65,219.75 413.10,217.38 413.54,214.97 413.98,212.53 414.43,210.05 414.87,207.54 415.31,205.00 415.76,202.43 416.20,199.85 416.64,197.24 417.09,194.61 417.53,191.96 417.97,189.31 418.42,186.64 418.86,183.96 419.30,181.28 419.75,178.60 420.19,175.91 420.63,173.23 421.08,170.55 421.52,167.88 421.96,165.22 422.41,162.58 422.85,159.94 423.29,157.33 423.74,154.74 424.18,152.17 424.62,149.62 425.07,147.11 425.51,144.62 425.95,142.17 426.40,139.75 426.84,137.37 427.28,135.03 427.73,132.72 428.17,130.47 428.61,128.26 429.06,126.09 429.50,123.98 429.94,121.92 430.39,119.91 430.83,117.96 431.27,116.07 431.72,114.23 432.16,112.46 432.60,110.74 433.05,109.09 433.49,107.51 433.93,105.99 434.38,104.54 434.82,103.15 435.26,101.84 435.71,100.60 436.15,99.43 436.59,98.33 437.04,97.31 437.48,96.36 437.92,95.48 438.37,94.68 438.81,93.96 439.25,93.31 439.70,92.74 440.14,92.24 440.58,91.83 441.03,91.49 441.47,91.22 441.91,91.03 442.36,90.92 442.80,90.89 443.24,90.93 443.69,91.05 444.13,91.24 444.57,91.51 445.02,91.85 445.46,92.26 445.90,92.75 446.35,93.31 446.79,93.94 447.23,94.64 447.68,95.40 448.12,96.24 448.56,97.14 449.01,98.10 449.45,99.13 449.89,100.23 450.34,101.38 450.78,102.59 451.22,103.86 451.67,105.18 452.11,106.56 452.55,107.99 453.00,109.48 453.44,111.01 453.88,112.59 454.33,114.21 454.77,115.88 455.22,117.59 455.66,119.34 456.10,121.13 456.55,122.95 456.99,124.80 457.43,126.69 457.88,128.60 458.32,130.55 458.76,132.51 459.21,134.50 459.65,136.51 460.09,138.54 460.54,140.58 460.98,142.64 461.42,144.70 461.87,146.78 462.31,148.86 462.75,150.95 463.20,153.04 463.64,155.13 464.08,157.22 464.53,159.30 464.97,161.38 465.41,163.45 465.86,165.51 466.30,167.55 466.74,169.58 467.19,171.59 467.63,173.59 468.07,175.56 468.52,177.51 468.96,179.43 469.40,181.33 469.85,183.20 470.29,185.03 470.73,186.84 471.18,188.61 471.62,190.34 472.06,192.04 472.51,193.69 472.95,195.31 473.39,196.88 473.84,198.41 474.28,199.89 474.72,201.33 475.17,202.72 475.61,204.05 476.05,205.34 476.50,206.58 476.94,207.76 477.38,208.89 477.83,209.96 478.27,210.98 478.71,211.94 479.16,212.84 479.60,213.68 480.04,214.47 480.49,215.19 480.93,215.85 481.37,216.46 481.82,217.00 482.26,217.48 482.70,217.89 483.15,218.25 483.59,218.54 484.03,218.77 484.48,218.93 484.92,219.03 485.36,219.07 485.81,219.05 486.25,218.96 486.69,218.81 487.14,218.60 487.58,218.33 488.02,217.99 488.47,217.60 488.91,217.14 489.35,216.62 489.80,216.04 490.24,215.40 490.68,214.71 491.13,213.95 491.57,213.14 492.01,212.28 492.46,211.35 492.90,210.38 493.34,209.35 493.79,208.26 494.23,207.13 494.67,205.94 495.12,204.71 495.56,203.43 496.00,202.10 496.45,200.73 496.89,199.31 497.33,197.84 497.78,196.34 498.22,194.79 498.66,193.21 499.11,191.59 499.55,189.93 499.99,188.24 500.44,186.51 500.88,184.75 501.32,182.96 501.77,181.14 502.21,179.30 502.65,177.42 503.10,175.53 503.54,173.61 503.98,171.67 504.43,169.71 504.87,167.73 505.31,165.73 505.76,163.72 506.20,161.70 506.64,159.66 507.09,157.62 507.53,155.56 507.97,153.50 508.42,151.43 508.86,149.36 509.30,147.28 509.75,145.21 510.19,143.13 510.64,141.06 511.08,138.99 511.52,136.93 511.97,134.87 512.41,132.82 512.85,130.78 513.30,128.75 513.74,126.74 514.18,124.73 514.63,122.74 515.07,120.77 515.51,118.82 515.96,116.88 516.40,114.97 516.84,113.07 517.29,111.20 517.73,109.35 518.17,107.53 518.62,105.73 519.06,103.96 519.50,102.21 519.95,100.50 520.39,98.82 520.83,97.16 521.28,95.54 521.72,93.95 522.16,92.40 522.61,90.88 523.05,89.39 523.49,87.94 523.94,86.53 524.38,85.15 524.82,83.81 525.27,82.51 525.71,81.25 526.15,80.03 526.60,78.85 527.04,77.71 527.48,76.61 527.93,75.55 528.37,74.53 528.81,73.56 529.26,72.63 529.70,71.74 530.14,70.89 530.59,70.08 531.03,69.32 531.47,68.60 531.92,67.92 532.36,67.29 532.80,66.70 533.25,66.15 533.69,65.65 534.13,65.18 534.58,64.77 535.02,64.39 535.46,64.05 535.91,63.76 536.35,63.51 536.79,63.30 537.24,63.13 537.68,63.01 538.12,62.92 538.57,62.87 539.01,62.86 539.45,62.90 539.90,62.97 540.34,63.08 540.78,63.22 541.23,63.40 541.67,63.62 542.11,63.88 542.56,64.17 543.00,64.50 543.44,64.85 543.89,65.25 544.33,65.67 544.77,66.13 545.22,66.62 545.66,67.14 546.10,67.68 546.55,68.26 546.99,68.87 547.43,69.50 547.88,70.16 548.32,70.84 548.76,71.55 549.21,72.28 549.65,73.04 550.09,73.82 550.54,74.62 550.98,75.44 551.42,76.28 551.87,77.14 552.31,78.01 552.75,78.91 553.20,79.82 553.64,80.74 554.08,81.68 554.53,82.63 554.97,83.60 555.41,84.58 555.86,85.56 556.30,86.56 556.74,87.57 557.19,88.58 557.63,89.60 558.07,90.63 558.52,91.67 558.96,92.70 559.40,93.75 559.85,94.79 560.29,95.84 560.73,96.88 561.18,97.93 561.62,98.98 562.06,100.03 562.51,101.07 562.95,102.11 563.39,103.15 563.84,104.18 564.28,105.21 564.72,106.24 565.17,107.25 565.61,108.26 566.06,109.26 566.50,110.25 566.94,111.24 567.39,112.21 567.83,113.17 568.27,114.12 568.72,115.06 569.16,115.99 569.60,116.90 570.05,117.80 570.49,118.68 570.93,119.55 571.38,120.41 571.82,121.25 572.26,122.07 572.71,122.88 573.15,123.67 573.59,124.44 574.04,125.19 574.48,125.93 574.92,126.64 575.37,127.34 575.81,128.02 576.25,128.68 576.70,129.31 577.14,129.93 577.58,130.53 578.03,131.10 578.47,131.66 578.91,132.19 579.36,132.70 579.80,133.19 580.24,133.65 580.69,134.10 581.13,134.52 581.57,134.92 582.02,135.30 582.46,135.65 582.90,135.98 583.35,136.29 583.79,136.58 584.23,136.84 584.68,137.08 585.12,137.30 585.56,137.49 586.01,137.67 586.45,137.81 586.89,137.94 587.34,138.04 587.78,138.12 588.22,138.18 588.67,138.22 589.11,138.23 589.55,138.22 590.00,138.19 590.44,138.14 590.88,138.07 591.33,137.97 591.77,137.86 592.21,137.72 592.66,137.56 593.10,137.38 593.54,137.18 593.99,136.96 594.43,136.72 594.87,136.47 595.32,136.19 595.76,135.89 596.20,135.58 596.65,135.25 597.09,134.89 597.53,134.53 597.98,134.14 598.42,133.74 598.86,133.32 599.31,132.88 599.75,132.43 600.19,131.96 600.64,131.48 601.08,130.98 601.52,130.47 601.97,129.95 602.41,129.41 602.85,128.85 603.30,128.29 603.74,127.71 604.18,127.12 604.63,126.52 605.07,125.91 605.51,125.28 605.96,124.65 606.40,124.00 606.84,123.35 607.29,122.69 607.73,122.01 608.17,121.33 608.62,120.64 609.06,119.95 609.50,119.25 609.95,118.54 610.39,117.82 610.83,117.10 611.28,116.37 611.72,115.64 612.16,114.90 612.61,114.16 613.05,113.41 613.49,112.66 613.94,111.91 614.38,111.15 614.82,110.39 615.27,109.63 615.71,108.87 616.15,108.11 616.60,107.35 617.04,106.58 617.48,105.82 617.93,105.05 618.37,104.29 618.81,103.53 619.26,102.76 619.70,102.00 620.14,101.25 620.59,100.49 621.03,99.74 621.48,98.98 621.92,98.24 622.36,97.49 622.81,96.75 623.25,96.02 623.69,95.28 624.14,94.56 624.58,93.83 625.02,93.11 625.47,92.40 625.91,91.70 626.35,90.99 626.80,90.30 627.24,89.61 627.68,88.93 628.13,88.25 628.57,87.59 629.01,86.92 629.46,86.27 629.90,85.62 630.34,84.98 630.79,84.35 631.23,83.73 631.67,83.12 632.12,82.51 632.56,81.91 633.00,81.32 633.45,80.74 633.89,80.17 634.33,79.61 634.78,79.06 635.22,78.51 635.66,77.98 636.11,77.45 636.55,76.93 636.99,76.43 637.44,75.93 637.88,75.44 638.32,74.97 638.77,74.50 639.21,74.04 639.65,73.59 640.10,73.15 640.54,72.73 640.98,72.31 641.43,71.90 641.87,71.50 642.31,71.11 642.76,70.73 643.20,70.36 643.64,70.00 644.09,69.66 644.53,69.32 644.97,68.99 645.42,68.67 645.86,68.36 646.30,68.06 646.75,67.77 647.19,67.49 647.63,67.21 648.08,66.95 648.52,66.70 648.96,66.46 649.41,66.22 649.85,66.00 650.29,65.78 650.74,65.57 651.18,65.38 651.62,65.19 652.07,65.01 652.51,64.83 652.95,64.67 653.40,64.52 653.84,64.37 654.28,64.23 654.73,64.10 655.17,63.98 655.61,63.86 656.06,63.75 656.50,63.65 656.94,63.56 657.39,63.48 657.83,63.40 658.27,63.33 658.72,63.26 659.16,63.20 659.60,63.15 660.05,63.11 660.49,63.07 660.93,63.04 661.38,63.01 661.82,62.99 662.26,62.97 662.71,62.96 663.15,62.96 663.59,62.96 664.04,62.97 664.48,62.98 664.92,63.00 665.37,63.02 665.81,63.04 666.25,63.07 666.70,63.11 667.14,63.14 667.58,63.19 668.03,63.23 668.47,63.28 668.91,63.34 669.36,63.39 669.80,63.45 670.24,63.51 670.69,63.58 671.13,63.65 671.57,63.72 672.02,63.79 672.46,63.87 672.90,63.95 673.35,64.03 673.79,64.11 674.23,64.20 674.68,64.28 675.12,64.37 675.56,64.46 676.01,64.55 676.45,64.65 676.90,64.74 677.34,64.83 677.78,64.93 678.23,65.03 678.67,65.12 679.11,65.22 679.56,65.32 680.00,65.42 680.44,65.52 680.89,65.62 681.33,65.72 681.77,65.82 682.22,65.92 682.66,66.02 683.10,66.12 683.55,66.22 683.99,66.32 684.43,66.42 684.88,66.52 685.32,66.61 685.76,66.71 686.21,66.81 686.65,66.90 687.09,67.00 687.54,67.09 687.98,67.19 688.42,67.28 688.87,67.37 689.31,67.46 689.75,67.55 690.20,67.64 690.64,67.72 691.08,67.81 691.53,67.89 691.97,67.98 692.41,68.06 692.86,68.14 693.30,68.22 693.74,68.29 694.19,68.37 694.63,68.45 695.07,68.52 695.52,68.59 695.96,68.66 696.40,68.73 696.85,68.80 697.29,68.86 697.73,68.93 698.18,68.99 698.62,69.05 699.06,69.11 699.51,69.17 699.95,69.22 700.39,69.28 700.84,69.33 701.28,69.38 701.72,69.43 702.17,69.48 702.61,69.53 703.05,69.57 703.50,69.62 703.94,69.66" stroke="#e19c24"/>
</g>
<g stroke="#666666" stroke-width="1.1" fill="none">
<path d="M38.50,32.1V459.7M25.1,438.50H716.7"/>
<path d="M38.50,457.50h2.5M38.50,418.50h2.5M38.50,399.50h2.5M38.50,380.50h2.5M38.50,361.50h4.5M38.50,341.50h2.5M38.50,322.50h2.5M38.50,303.50h2.5M38.50,284.50h4.5M38.50,264.50h2.5M38.50,245.50h2.5M38.50,226.50h2.5M38.50,206.50h4.5M38.50,187.50h2.5M38.50,168.50h2.5M38.50,149.50h2.5M38.50,130.50h4.5M38.50,110.50h2.5M38.50,91.50h2.5M38.50,72.50h2.5M38.50,53.50h4.5M38.50,33.50h2.5M60.50,438.50v-2.5M82.50,438.50v-2.5M105.50,438.50v-2.5M127.50,438.50v-2.5M149.50,438.50v-4.5M171.50,438.50v-2.5M193.50,438.50v-2.5M215.50,438.50v-2.5M238.50,438.50v-2.5M260.50,438.50v-4.5M282.50,438.50v-2.5M304.50,438.50v-2.5M326.50,438.50v-2.5M348.50,438.50v-2.5M371.50,438.50v-4.5M393.50,438.50v-2.5M415.50,438.50v-2.5M437.50,438.50v-2.5M459.50,438.50v-2.5M481.50,438.50v-4.5M504.50,438.50v-2.5M526.50,438.50v-2.5M548.50,438.50v-2.5M570.50,438.50v-2.5M592.50,438.50v-4.5M614.50,438.50v-2.5M637.50,438.50v-2.5M659.50,438.50v-2.5M681.50,438.50v-2.5M703.50,438.50v-4.5"/>
</g>
<g font-size="20" fill="#000">
<text x="32" y="368.0" text-anchor="end">0.2</text><text x="32" y="291.0" text-anchor="end">0.4</text><text x="32" y="214.0" text-anchor="end">0.6</text><text x="32" y="137.0" text-anchor="end">0.8</text><text x="32" y="60.0" text-anchor="end">1.0</text><text x="149.4" y="463" text-anchor="middle">0.5</text><text x="260.2" y="463" text-anchor="middle">1.0</text><text x="371.1" y="463" text-anchor="middle">1.5</text><text x="481.9" y="463" text-anchor="middle">2.0</text><text x="592.8" y="463" text-anchor="middle">2.5</text><text x="703.6" y="463" text-anchor="middle">3.0</text>
</g>
<g stroke-width="3.9">
<path d="M741.2,211.4H779.7" stroke="#5e81b5"/>
<path d="M741.2,258.5H779.7" stroke="#e19c24"/>
</g>
<g font-size="27" fill="#000">
<text x="792.6" y="218">0</text>
<text x="792.6" y="265">1</text>
</g>
</svg>
</body></html>
